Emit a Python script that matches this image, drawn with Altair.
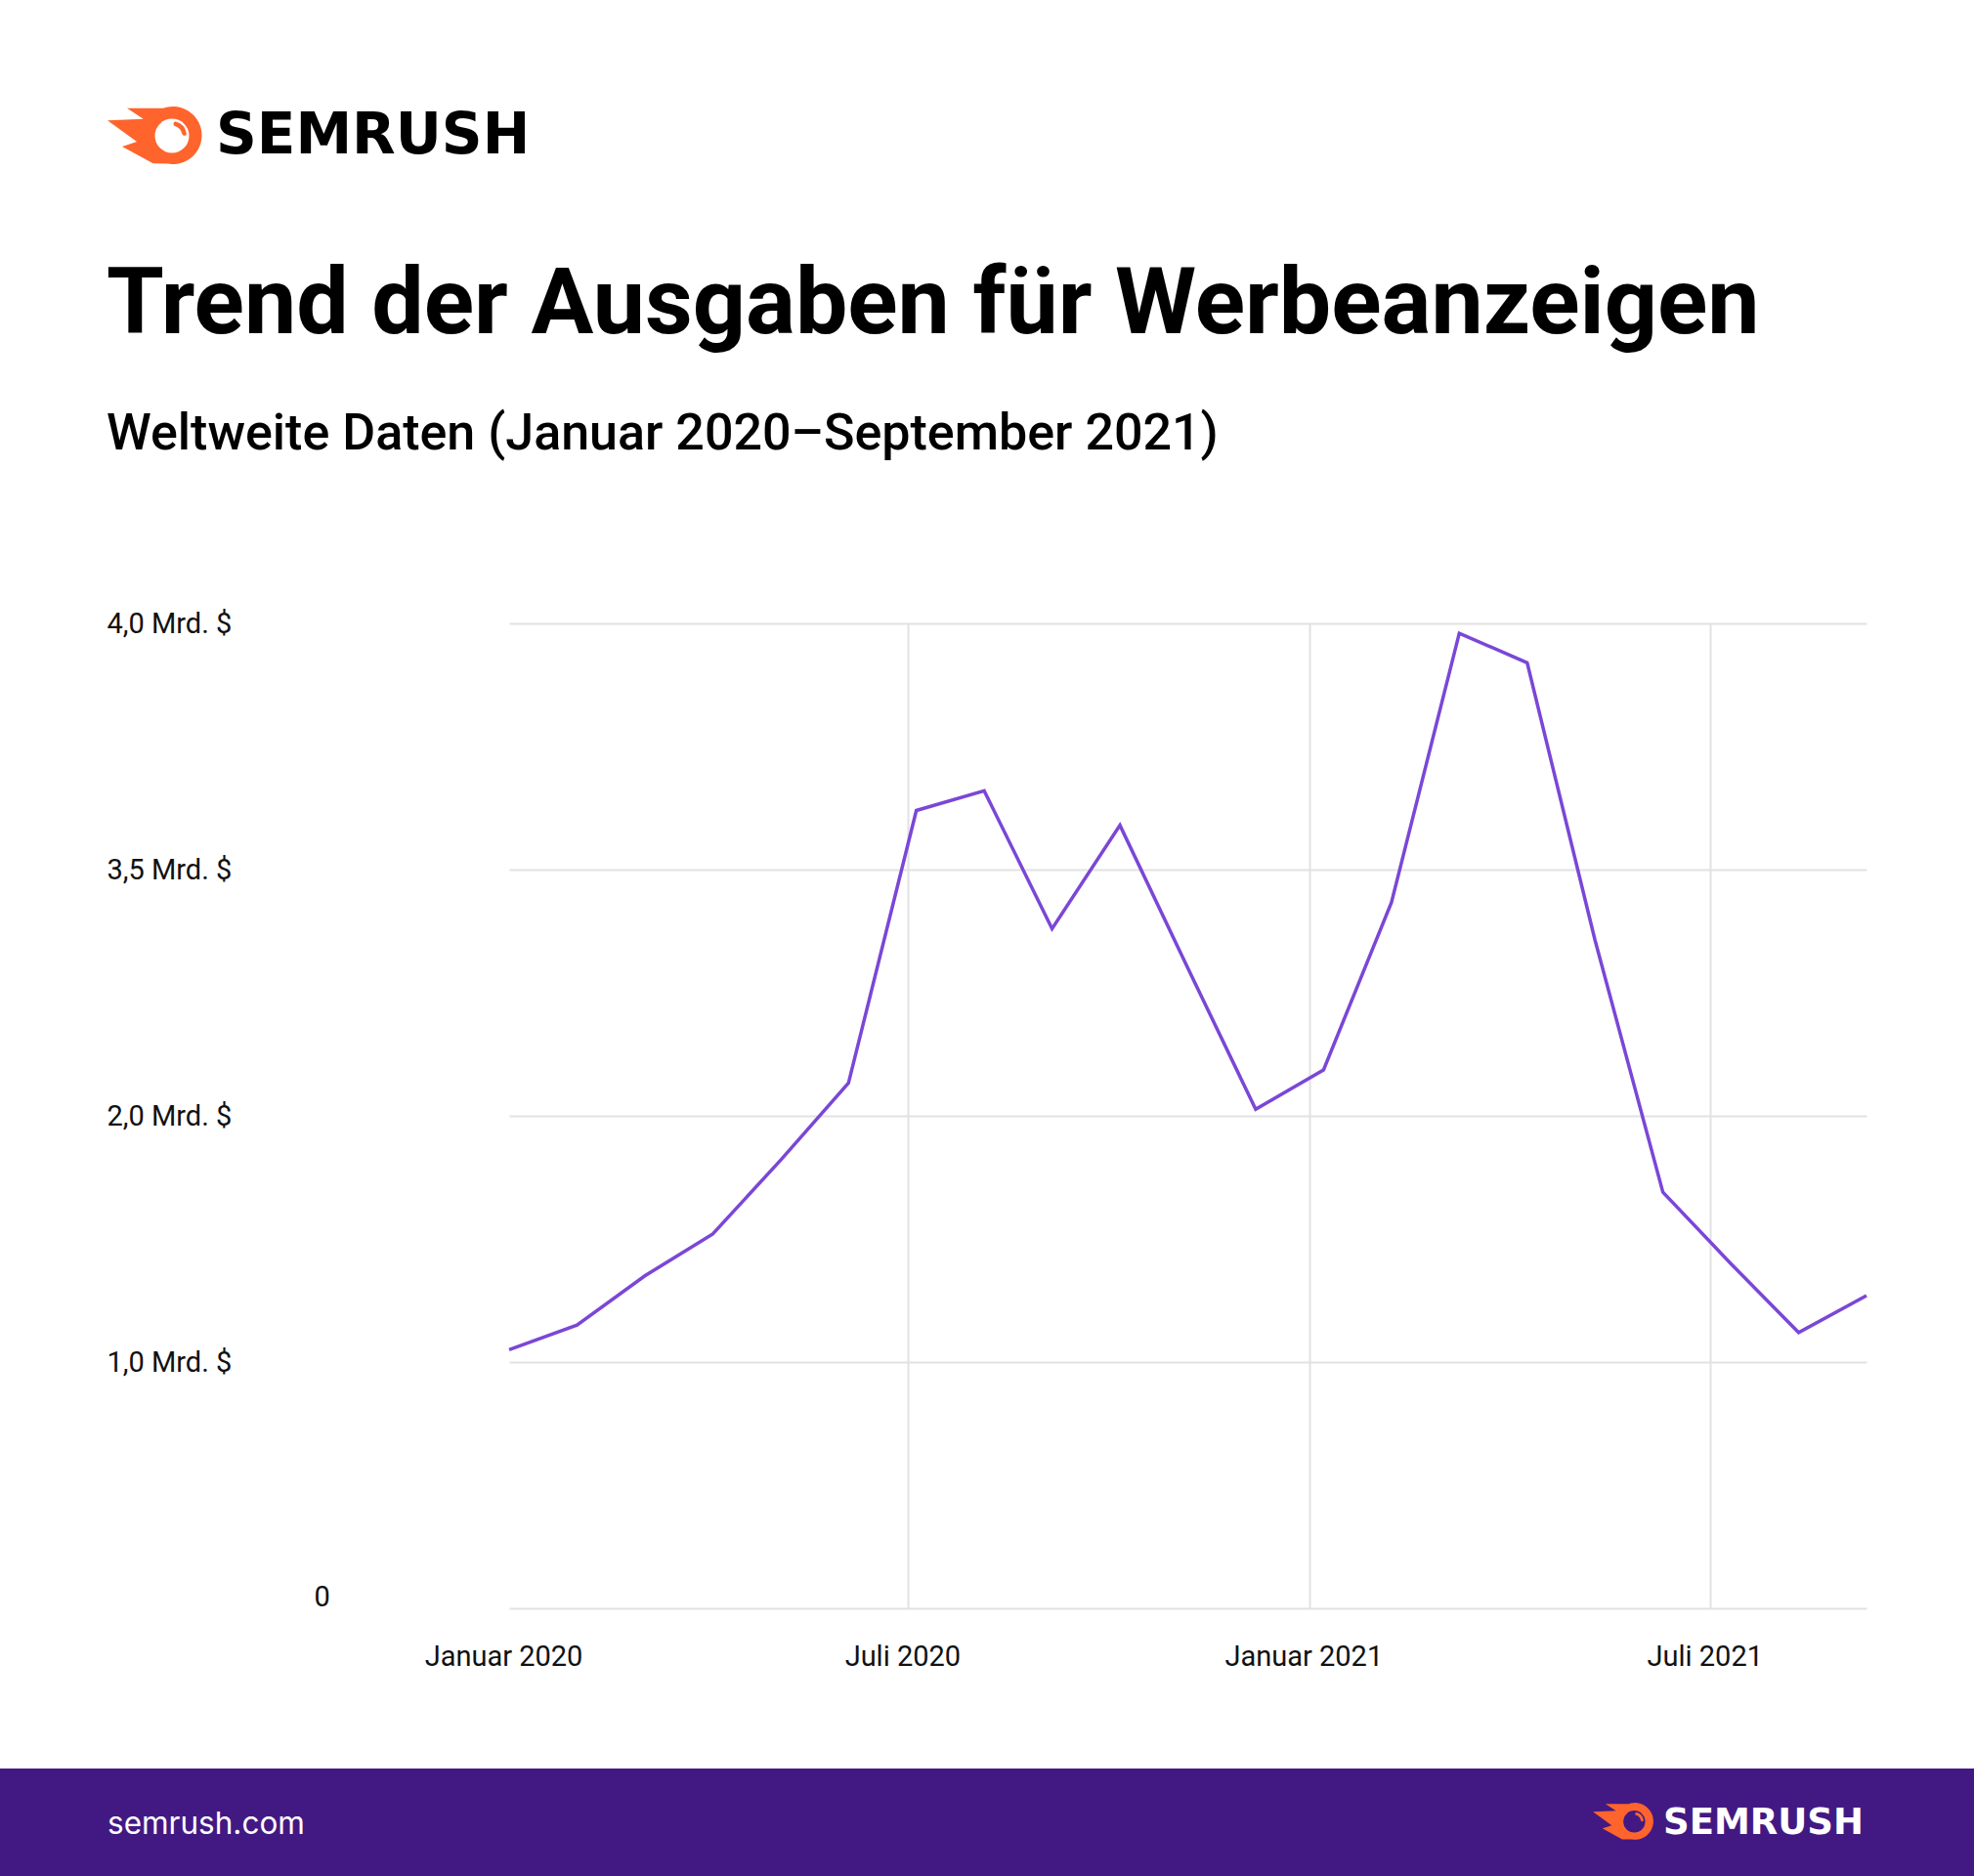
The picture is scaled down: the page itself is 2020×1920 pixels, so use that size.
import math
import altair as alt
import pandas as pd

# ---------------- data ----------------
months = ["2020-01", "2020-02", "2020-03", "2020-04", "2020-05", "2020-06",
          "2020-07", "2020-08", "2020-09", "2020-10", "2020-11", "2020-12",
          "2021-01", "2021-02", "2021-03", "2021-04", "2021-05", "2021-06",
          "2021-07", "2021-08", "2021-09"]
spend_bn = [1.05, 1.15, 1.35, 1.52, 1.82, 2.20, 3.62, 3.66, 3.14, 3.59, 2.90,
            2.04, 2.28, 3.30, 3.98, 3.92, 3.07, 1.69, 1.40, 1.12, 1.27]

y_ticks = [0, 1.0, 2.0, 3.5, 4.0]
y_tick_labels = ["0", "1,0 Mrd. $", "2,0 Mrd. $", "3,5 Mrd. $", "4,0 Mrd. $"]
x_tick_pos = [0, 5.88, 11.79, 17.70]
x_tick_labels = ["Januar 2020", "Juli 2020", "Januar 2021", "Juli 2021"]

title_text = "Trend der Ausgaben für Werbeanzeigen"
subtitle_text = "Weltweite Daten (Januar 2020–September 2021)"
brand_text = "SEMRUSH"
site_text = "semrush.com"

# ---------------- layout ----------------
W, H = 1389, 1008
PAD_L, PAD_T = 521, 638
TOTAL_W, TOTAL_H = 2020, 1920
ORANGE = "#FF642D"
PURPLE = "#421983"
LINE = "#7A47D6"
GRID = "#E2E2E2"

df = pd.DataFrame({"idx": list(range(len(months))), "month": months, "spend": spend_bn})


def ternary(values, labels, default="''"):
    expr = default
    for v, l in reversed(list(zip(values, labels))):
        expr = f"abs(datum.value - {v}) < 0.01 ? '{l}' : ({expr})"
    return expr


line = alt.Chart(df).mark_line(color=LINE, strokeWidth=3.5).encode(
    x=alt.X("idx:Q",
            scale=alt.Scale(domain=[0, len(months) - 1], nice=False, zero=False),
            axis=alt.Axis(values=x_tick_pos, labelExpr=ternary(x_tick_pos, x_tick_labels),
                          title=None, domain=False, ticks=False, tickSize=0,
                          grid=True, gridColor=GRID, gridWidth=2,
                          gridOpacity={"condition": {"test": "datum.value < 0.5", "value": 0}, "value": 1},
                          labelFont="Roboto", labelFontSize=29, labelColor="#111111",
                          labelBaseline="middle", labelPadding=49, labelFlush=False,
                          labelOffset=-6, labelOverlap=False)),
    y=alt.Y("spend:Q",
            scale=alt.Scale(domain=y_ticks, range=[H, H * 0.75, H * 0.5, H * 0.25, 0],
                            nice=False, zero=False),
            axis=alt.Axis(values=y_ticks, labelExpr=ternary(y_ticks, y_tick_labels),
                          title=None, domain=False, ticks=False, tickSize=0,
                          grid=True, gridColor=GRID, gridWidth=2,
                          labelFont="Roboto", labelFontSize=29, labelColor="#111111",
                          labelAlign="left", labelBaseline="middle",
                          labelPadding={"condition": {"test": "datum.value < 0.5", "value": 200}, "value": 412},
                          labelOffset={"condition": {"test": "datum.value < 0.5", "value": -12}, "value": 0},
                          labelOverlap=False)),
)

one = pd.DataFrame({"k": [0]})


def text_layer(txt, x, y, size, weight="normal", color="#000000", font="Roboto"):
    return alt.Chart(one).mark_text(
        text=txt, align="left", baseline="alphabetic", font=font, fontSize=size,
        fontWeight=weight, color=color
    ).encode(x=alt.value(x - PAD_L), y=alt.value(y - PAD_T))


# flame logo path (icon-local px, circle centre at origin, unit 50px)
R = 29.5
pts = [(-47, -27.8)]
a0 = math.atan2(-27.75, -10)
a1 = math.atan2(29.07, -5)
for i in range(31):
    a = a0 + (a1 - a0) * i / 30
    pts.append((R * math.cos(a), R * math.sin(a)))
pts += [(-20.3, 28.8), (-52, 11.5), (-37, 6.5), (-67, -15.2), (-30.3, -16.8)]
flame_path = "M" + " L".join(f"{px / 50:.4f},{py / 50:.4f}" for px, py in pts) + " Z"


def logo_icon(cx, cy, scale, inner):
    ax, ay = cx - PAD_L, cy - PAD_T
    flame = alt.Chart(one).mark_point(
        shape=flame_path, filled=True, fill=ORANGE, strokeOpacity=0, opacity=1,
        size=(100 * scale) ** 2
    ).encode(x=alt.value(ax), y=alt.value(ay))
    hole = alt.Chart(one).mark_point(
        shape="circle", filled=True, fill=inner, strokeOpacity=0, opacity=1,
        size=(35 * scale) ** 2
    ).encode(x=alt.value(ax - 1 * scale), y=alt.value(ay + 0.5 * scale))
    glint = alt.Chart(one).mark_arc(
        radius=15 * scale, radius2=10.5 * scale, theta=0.12, theta2=1.55,
        color=ORANGE, cornerRadius=2 * scale
    ).encode(x=alt.value(ax - 1 * scale), y=alt.value(ay + 0.5 * scale))
    return [flame, hole, glint]


footer = alt.Chart(one).mark_rect(color=PURPLE).encode(
    x=alt.value(-PAD_L), x2=alt.value(TOTAL_W - PAD_L),
    y=alt.value(1810 - PAD_T), y2=alt.value(TOTAL_H - PAD_T)
)

layers = [footer, line]
layers += logo_icon(177, 138.5, 1.0, "#FFFFFF")
layers.append(text_layer(brand_text, 221, 157, 58, "bold", "#000000", "DejaVu Sans"))
layers.append(text_layer(title_text, 109, 341, 95, "bold", "#000000"))
layers.append(text_layer(subtitle_text, 109, 460, 52, 500, "#000000"))
layers.append(text_layer(site_text, 110, 1877, 31.5, "normal", "#FFFFFF", "Inter"))
layers += logo_icon(1673, 1864, 0.64, PURPLE)
layers.append(text_layer(brand_text, 1702, 1877, 37, "bold", "#FFFFFF", "DejaVu Sans"))

chart = alt.layer(*layers).properties(
    width=W, height=H,
    padding={"left": PAD_L, "top": PAD_T, "right": TOTAL_W - PAD_L - W, "bottom": TOTAL_H - PAD_T - H},
    autosize=alt.AutoSizeParams(type="none"),
    background="#FFFFFF",
).configure_view(stroke=None)

chart.save("out.html", embed_options={"renderer": "svg", "actions": False})
